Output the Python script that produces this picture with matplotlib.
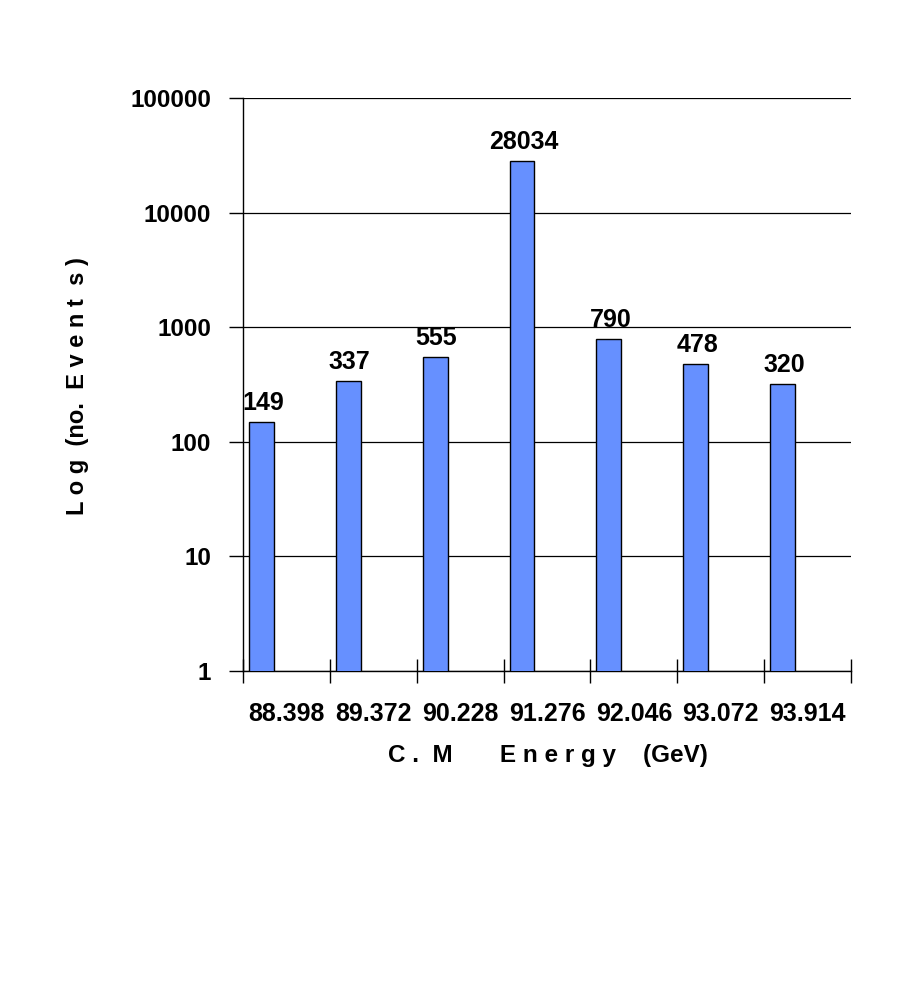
import numpy as np
import matplotlib.pyplot as plt
from matplotlib.ticker import FixedLocator, NullFormatter

energies = ['88.398', '89.372', '90.228', '91.276', '92.046', '93.072', '93.914']
events = [149, 337, 555, 28034, 790, 478, 320]
yticks = [1, 10, 100, 1000, 10000, 100000]

bar_color = (102/255, 144/255, 255/255)

plt.rcParams['font.family'] = ['Liberation Sans', 'DejaVu Sans']
plt.rcParams['font.weight'] = 'bold'

fig = plt.figure(figsize=(9.15, 9.81), dpi=100)
ax = fig.add_axes([243/915, 1 - 671/981, 608/915, 573/981])

x = np.arange(len(energies))
# bars sit at the left side of each category, as in the original spreadsheet chart
ax.bar(x - 0.5 + 0.069, events, width=0.287, align='edge',
       color=bar_color, edgecolor='black', linewidth=1.0, zorder=3)

for xi, v in zip(x, events):
    ax.annotate(str(v), (xi - 0.5 + 0.069 + 0.287 / 2, v), xytext=(1, 5),
                textcoords='offset points', ha='center', va='bottom',
                fontsize=18, fontweight='bold')

ax.set_yscale('log')
ax.set_ylim(1, 100000)
ax.set_xlim(-0.5, len(energies) - 0.5)
ax.set_yticks(yticks)
ax.set_yticklabels([str(t) for t in yticks])
ax.yaxis.set_minor_locator(FixedLocator([]))
ax.yaxis.grid(True, color='black', linewidth=0.9, zorder=0)
ax.set_axisbelow(True)

# category boundaries get the tick marks, centres get the labels
ax.xaxis.set_major_locator(FixedLocator(np.arange(len(energies) + 1) - 0.5))
ax.xaxis.set_major_formatter(NullFormatter())
ax.xaxis.set_minor_locator(FixedLocator(x))
ax.set_xticklabels(energies, minor=True)
ax.tick_params(axis='x', which='major', direction='inout', length=17, width=1)
ax.tick_params(axis='x', which='minor', length=0, pad=22, labelsize=18)
ax.tick_params(axis='y', which='major', direction='out', length=10, width=1,
               pad=13, labelsize=17.5)

for key, spine in ax.spines.items():
    spine.set_visible(key in ('left', 'bottom'))
    spine.set_linewidth(1)

ax.set_ylabel('L o g  (no.  E v e n t  s )', fontsize=17, fontweight='bold')
ax.yaxis.set_label_coords(-0.253, 0.497)
ax.set_xlabel('C .  M       E n e r g y    (GeV)', fontsize=17.5, fontweight='bold')
ax.xaxis.set_label_coords(0.502, -0.128)

fig.savefig('out.png', dpi=100)
